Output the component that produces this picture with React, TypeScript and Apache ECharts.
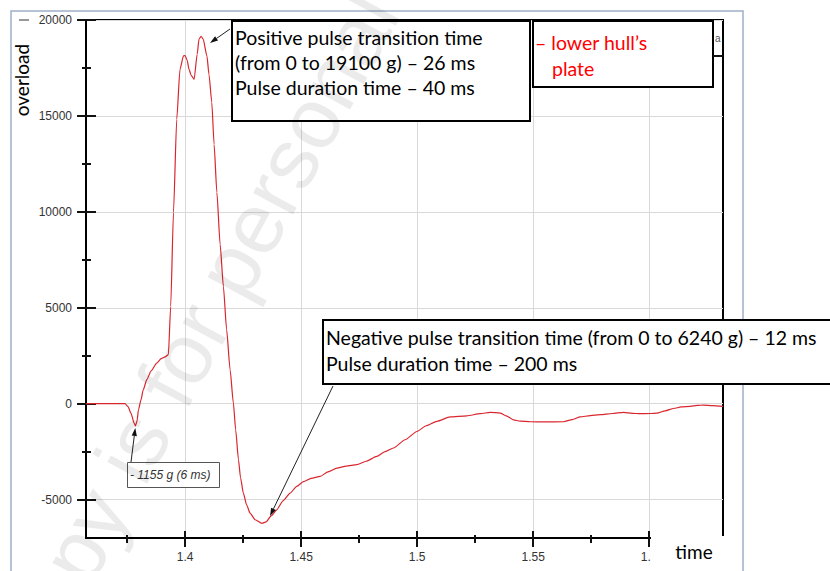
import React, { useEffect, useRef } from 'react';
import * as echarts from 'echarts';

// time (s)
const timeS = [
  1.3573, 1.366, 1.3741, 1.3754, 1.3767, 1.378, 1.3786, 1.3793, 1.3799, 1.381,
  1.3819, 1.3835, 1.3853, 1.3878, 1.3897, 1.3914, 1.3928, 1.3938, 1.395, 1.3964,
  1.3978, 1.3993, 1.4, 1.4009, 1.4017, 1.4026, 1.4039, 1.4052, 1.406, 1.4069,
  1.4078, 1.4094, 1.4103, 1.4115, 1.4125, 1.4137, 1.4151, 1.4165, 1.4179, 1.4194,
  1.4208, 1.4218, 1.423, 1.4239, 1.4251, 1.4265, 1.428, 1.4302, 1.4331, 1.4349,
  1.4371, 1.4395, 1.4422, 1.4453, 1.4481, 1.451, 1.4543, 1.4582, 1.4616, 1.4654,
  1.4694, 1.474, 1.478, 1.4826, 1.4862, 1.4898, 1.4948, 1.4999, 1.5039, 1.5085,
  1.5142, 1.5214, 1.5272, 1.5315, 1.5358, 1.5384, 1.5415, 1.5444, 1.5487, 1.5552,
  1.5631, 1.5668, 1.5703, 1.5746, 1.5789, 1.5841, 1.5889, 1.5927, 1.5961, 1.6004,
  1.6033, 1.6069, 1.6105, 1.6138, 1.6177, 1.6207, 1.6234, 1.6272, 1.6318,
];
// overload (g)
const overloadG = [
  0, 0, 0, -150, -500, -1000, -1155, -900, -320, 200,
  700, 1250, 1700, 2120, 2350, 2440, 2560, 5080, 9970, 14820,
  17430, 18130, 18150, 17900, 17430, 17120, 16910, 18210, 19000, 19150,
  19000, 18130, 17170, 15710, 13520, 11010, 8300, 6120, 3860, 1770,
  40, -1360, -2920, -3860, -4660, -5270, -5700, -6050, -6240, -6160,
  -5850, -5530, -5060, -4660, -4310, -4060, -3890, -3790, -3550, -3360,
  -3250, -3180, -3000, -2750, -2500, -2310, -1880, -1450, -1150, -920,
  -690, -630, -520, -450, -490, -630, -840, -910, -940, -950,
  -940, -830, -690, -620, -570, -510, -450, -500, -520, -510,
  -490, -370, -250, -170, -140, -90, -70, -100, -140,
];

const yMajorTicks = [-5000, 0, 5000, 10000, 15000, 20000];
const yMinorTicks = [-2500, 2500, 7500, 12500, 17500];
const xMajorTicks = [1.4, 1.45, 1.5, 1.55, 1.6];
const xMinorTicks = [1.375, 1.425, 1.475, 1.525, 1.575];

const X_MIN = 1.3573;
const X_MAX = 1.6318;
const Y_MIN = -7000;
const Y_MAX = 20000;

const box1Lines = [
  'Positive pulse transition time',
  '(from 0 to 19100 g) – 26 ms',
  'Pulse duration time – 40 ms',
];
const box3Lines = [
  'Negative pulse transition time (from 0 to 6240 g) – 12 ms',
  'Pulse duration time – 200 ms',
];
const legendLines = ['– lower hull’s', 'plate'];
const minLabel = '- 1155 g (6 ms)';

const TXT_FONT = 'Lato, "Open Sans", sans-serif';
const TXT_SIZE = 19.5;

function arrow(x1: number, y1: number, x2: number, y2: number) {
  const dx = x2 - x1;
  const dy = y2 - y1;
  const len = Math.sqrt(dx * dx + dy * dy);
  const ux = dx / len;
  const uy = dy / len;
  const bx = x2 - ux * 8;
  const by = y2 - uy * 8;
  const nx = -uy;
  const ny = ux;
  return [
    {
      type: 'line',
      z: 12,
      shape: { x1, y1, x2: bx, y2: by },
      style: { stroke: '#222', lineWidth: 1 },
    },
    {
      type: 'polygon',
      z: 12,
      shape: {
        points: [
          [x2, y2],
          [bx + nx * 2.6, by + ny * 2.6],
          [bx - nx * 2.6, by - ny * 2.6],
        ],
      },
      style: { fill: '#111' },
    },
  ];
}

function tickAxis(kind: 'x' | 'y', values: number[], inside: boolean, length: number) {
  const base: any = {
    type: 'value',
    min: kind === 'x' ? X_MIN : Y_MIN,
    max: kind === 'x' ? X_MAX : Y_MAX,
    position: kind === 'x' ? 'bottom' : 'left',
    axisLine: { show: false, onZero: false },
    axisTick: {
      show: true,
      inside,
      length,
      customValues: values,
      lineStyle: { color: '#111', width: 2 },
    },
    axisLabel: { show: false },
    splitLine: { show: false },
  };
  return base;
}

export default function App() {
  const ref = useRef<HTMLDivElement>(null);

  useEffect(() => {
    if (!ref.current) return;
    const chart = echarts.init(ref.current, undefined, { renderer: 'svg' });

    const labelStyle = {
      color: '#333',
      fontSize: 12,
      fontFamily: '"Liberation Sans", Arial, sans-serif',
    };

    const wmAngle = 1.073;
    const graphics: any[] = [
      // outer frame
      {
        type: 'rect',
        z: 1,
        shape: { x: 11, y: 11, width: 732, height: 600 },
        style: { fill: 'none', stroke: '#9db0c6', lineWidth: 1.5 },
      },
      // stray dash top-left
      {
        type: 'line',
        z: 12,
        shape: { x1: 19, y1: 20, x2: 29, y2: 20 },
        style: { stroke: '#777', lineWidth: 1.5 },
      },
      // legend remnant
      {
        type: 'line',
        z: 12,
        shape: { x1: 713, y1: 56, x2: 723, y2: 56 },
        style: { stroke: '#111', lineWidth: 2 },
      },
      {
        type: 'text',
        z: 12,
        x: 715,
        y: 38,
        style: { text: 'a', fontSize: 10, fontFamily: '"Liberation Sans", Arial', fill: '#555', textVerticalAlign: 'middle' },
      },
      // box 1
      {
        type: 'rect',
        z: 10,
        shape: { x: 232, y: 21, width: 298, height: 100 },
        style: { fill: '#fff', stroke: '#000', lineWidth: 2 },
      },
      ...box1Lines.map((t, i) => ({
        type: 'text',
        z: 11,
        x: 235,
        y: 37 + i * 25,
        style: { text: t, fontSize: TXT_SIZE, fontFamily: TXT_FONT, fill: '#000', textVerticalAlign: 'middle' },
      })),
      // legend box (red)
      {
        type: 'rect',
        z: 10,
        shape: { x: 533, y: 21, width: 180, height: 66 },
        style: { fill: '#fff', stroke: '#000', lineWidth: 2 },
      },
      {
        type: 'text',
        z: 11,
        x: 535,
        y: 42,
        style: { text: legendLines[0], fontSize: TXT_SIZE, fontFamily: TXT_FONT, fill: '#ff0000', textVerticalAlign: 'middle' },
      },
      {
        type: 'text',
        z: 11,
        x: 552,
        y: 68,
        style: { text: legendLines[1], fontSize: TXT_SIZE, fontFamily: TXT_FONT, fill: '#ff0000', textVerticalAlign: 'middle' },
      },
      // box 3
      {
        type: 'rect',
        z: 10,
        shape: { x: 323, y: 320, width: 530, height: 64 },
        style: { fill: '#fff', stroke: '#000', lineWidth: 2 },
      },
      ...box3Lines.map((t, i) => ({
        type: 'text',
        z: 11,
        x: 326,
        y: 337 + i * 26,
        style: { text: t, fontSize: TXT_SIZE, fontFamily: TXT_FONT, fill: '#000', textVerticalAlign: 'middle' },
      })),
      // min label box
      {
        type: 'rect',
        z: 10,
        shape: { x: 127.5, y: 462.5, width: 92, height: 25 },
        style: { fill: '#fff', stroke: '#555', lineWidth: 1 },
      },
      {
        type: 'text',
        z: 11,
        x: 130,
        y: 475,
        style: {
          text: minLabel,
          fontSize: 12,
          fontStyle: 'italic',
          fontFamily: '"Liberation Sans", Arial, sans-serif',
          fill: '#333',
          textVerticalAlign: 'middle',
        },
      },
      ...arrow(230, 29, 210, 43),
      ...arrow(333, 386, 270, 516),
      ...arrow(131, 462, 135.3, 428),
      // cover for the x-axis end
      {
        type: 'rect',
        z: 10,
        shape: { x: 651, y: 536, width: 90, height: 40 },
        style: { fill: '#fff' },
      },
      {
        type: 'text',
        z: 11,
        x: 694,
        y: 551,
        style: { text: 'time', fontSize: 19, fontFamily: TXT_FONT, fill: '#000', textAlign: 'center', textVerticalAlign: 'middle' },
      },
      {
        type: 'text',
        z: 11,
        x: 21,
        y: 80,
        rotation: Math.PI / 2,
        style: { text: 'overload', fontSize: 19, fontFamily: TXT_FONT, fill: '#000', textAlign: 'center', textVerticalAlign: 'middle' },
      },
      // watermark
      {
        type: 'text',
        z: 20,
        x: 20,
        y: 655,
        rotation: wmAngle,
        style: {
          text: 'copy is for personal use only',
          fontSize: 86,
          fontFamily: '"Liberation Sans", Arial, sans-serif',
          fill: 'rgba(0,0,0,0.08)',
          textVerticalAlign: 'middle',
        },
      },
    ];

    chart.setOption({
      animation: false,
      backgroundColor: '#fff',
      grid: {
        left: 86,
        top: 20,
        right: 107,
        bottom: 33,
        show: true,
        borderColor: '#000',
        borderWidth: 2,
        backgroundColor: 'transparent',
      },
      xAxis: [
        {
          type: 'value',
          min: X_MIN,
          max: X_MAX,
          position: 'bottom',
          axisLine: { show: true, onZero: false, lineStyle: { color: '#000', width: 2 } },
          axisTick: { show: true, customValues: xMajorTicks, length: 9, lineStyle: { color: '#111', width: 2 } },
          axisLabel: {
            show: true,
            customValues: xMajorTicks,
            margin: 13,
            ...labelStyle,
            formatter: (v: number) => String(Number(v.toFixed(4))),
          },
          splitLine: { show: true, lineStyle: { color: '#d9d9d9', width: 1 } },
        },
        tickAxis('x', xMajorTicks, true, 7),
        tickAxis('x', xMinorTicks, false, 5),
        tickAxis('x', xMinorTicks, true, 3),
      ],
      yAxis: [
        {
          type: 'value',
          min: Y_MIN,
          max: Y_MAX,
          position: 'left',
          axisLine: { show: true, onZero: false, lineStyle: { color: '#000', width: 2 } },
          axisTick: { show: true, customValues: yMajorTicks, length: 9, lineStyle: { color: '#111', width: 2 } },
          axisLabel: {
            show: true,
            customValues: yMajorTicks,
            margin: 14,
            ...labelStyle,
            formatter: (v: number) => String(v),
          },
          splitLine: { show: true, lineStyle: { color: '#d9d9d9', width: 1 } },
        },
        tickAxis('y', yMajorTicks, true, 10),
        tickAxis('y', yMinorTicks, false, 4),
        tickAxis('y', yMinorTicks, true, 5),
      ],
      series: [
        {
          type: 'line',
          xAxisIndex: 0,
          yAxisIndex: 0,
          data: timeS.map((t, i) => [t, overloadG[i]]),
          showSymbol: false,
          smooth: 0.2,
          smoothMonotone: 'x',
          lineStyle: { color: '#d9262e', width: 1.2 },
          z: 5,
        },
      ],
      graphic: graphics,
    });

    return () => chart.dispose();
  }, []);

  return (
    <div
      ref={ref}
      style={{ position: 'fixed', left: 0, top: 0, width: 830, height: 571, background: '#fff' }}
    />
  );
}
